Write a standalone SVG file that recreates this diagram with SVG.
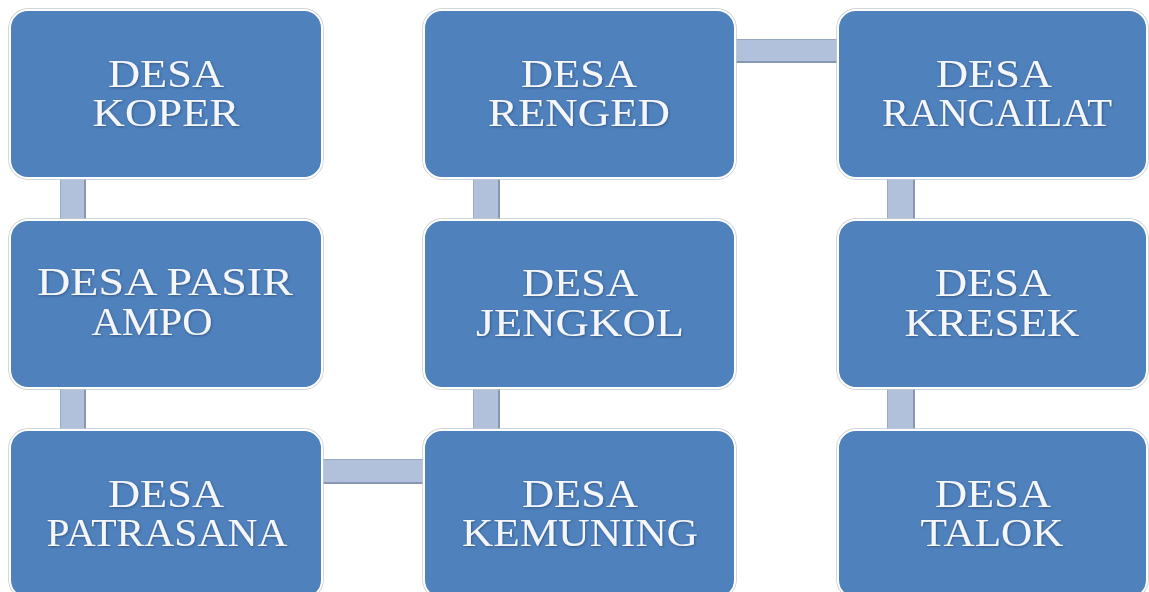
<svg xmlns="http://www.w3.org/2000/svg" width="1149" height="592" viewBox="0 0 1149 592">
  <defs>
    <style>
      .box { fill: #4f81bd; stroke: #ffffff; stroke-width: 2; }
      .rim { fill: none; stroke: #c4c8cf; stroke-width: 1.4; }
      .bar { fill: #b1c1dc; }
      .edge { fill: #8797b3; }
      .lbl { font-family: "Liberation Serif", "Times New Roman", serif; font-size: 39px; fill: #f4f6fa; text-anchor: middle; filter: url(#shade); }
    </style>
    <filter id="shade" x="-10%" y="-20%" width="120%" height="150%">
      <feDropShadow dx="0.8" dy="1" stdDeviation="0.8" flood-color="#1f3556" flood-opacity="0.55"/>
    </filter>
  </defs>
  <rect width="1149" height="592" fill="#ffffff"/>

  <!-- connectors: flat bars with a darker shaded edge -->
  <g id="connectors">
    <rect class="bar" x="60" y="178" width="26" height="42"/>
    <rect class="edge" x="84" y="178" width="2" height="42"/>
    <rect class="edge" x="60" y="178" width="1" height="42" opacity="0.5"/>
    <rect class="bar" x="60" y="388" width="26" height="42"/>
    <rect class="edge" x="84" y="388" width="2" height="42"/>
    <rect class="edge" x="60" y="388" width="1" height="42" opacity="0.5"/>
    <rect class="bar" x="473" y="178" width="27" height="42"/>
    <rect class="edge" x="498" y="178" width="2" height="42"/>
    <rect class="edge" x="473" y="178" width="1" height="42" opacity="0.5"/>
    <rect class="bar" x="473" y="388" width="27" height="42"/>
    <rect class="edge" x="498" y="388" width="2" height="42"/>
    <rect class="edge" x="473" y="388" width="1" height="42" opacity="0.5"/>
    <rect class="bar" x="887" y="178" width="28" height="42"/>
    <rect class="edge" x="913" y="178" width="2" height="42"/>
    <rect class="edge" x="887" y="178" width="1" height="42" opacity="0.5"/>
    <rect class="bar" x="887" y="388" width="28" height="42"/>
    <rect class="edge" x="913" y="388" width="2" height="42"/>
    <rect class="edge" x="887" y="388" width="1" height="42" opacity="0.5"/>
    <rect class="bar" x="322" y="459" width="102" height="25"/>
    <rect class="edge" x="322" y="482" width="102" height="2"/>
    <rect class="edge" x="322" y="459" width="102" height="1" opacity="0.6"/>
    <rect class="bar" x="735" y="39" width="103" height="24"/>
    <rect class="edge" x="735" y="61" width="103" height="2"/>
    <rect class="edge" x="735" y="39" width="103" height="1" opacity="0.6"/>
  </g>

  <g id="koper">
    <rect class="rim" x="9" y="9" width="314" height="170" rx="19"/>
    <rect class="box" x="10" y="10" width="312" height="168" rx="18"/>
    <text class="lbl" x="166" y="87" textLength="116" lengthAdjust="spacingAndGlyphs">DESA</text>
    <text class="lbl" x="166" y="126" textLength="147" lengthAdjust="spacingAndGlyphs">KOPER</text>
  </g>
  <g id="pasir-ampo">
    <rect class="rim" x="9" y="219" width="314" height="170" rx="19"/>
    <rect class="box" x="10" y="220" width="312" height="168" rx="18"/>
    <text class="lbl" x="165" y="295" textLength="256" lengthAdjust="spacingAndGlyphs">DESA PASIR</text>
    <text class="lbl" x="152" y="335" textLength="121" lengthAdjust="spacingAndGlyphs">AMPO</text>
  </g>
  <g id="patrasana">
    <rect class="rim" x="9" y="429" width="314" height="170" rx="19"/>
    <rect class="box" x="10" y="430" width="312" height="168" rx="18"/>
    <text class="lbl" x="166" y="507" textLength="116" lengthAdjust="spacingAndGlyphs">DESA</text>
    <text class="lbl" x="167" y="546" textLength="241" lengthAdjust="spacingAndGlyphs">PATRASANA</text>
  </g>

  <g id="renged">
    <rect class="rim" x="423" y="9" width="313" height="170" rx="19"/>
    <rect class="box" x="424" y="10" width="311" height="168" rx="18"/>
    <text class="lbl" x="579" y="87" textLength="116" lengthAdjust="spacingAndGlyphs">DESA</text>
    <text class="lbl" x="579" y="126" textLength="182" lengthAdjust="spacingAndGlyphs">RENGED</text>
  </g>
  <g id="jengkol">
    <rect class="rim" x="423" y="219" width="313" height="170" rx="19"/>
    <rect class="box" x="424" y="220" width="311" height="168" rx="18"/>
    <text class="lbl" x="580" y="296" textLength="116" lengthAdjust="spacingAndGlyphs">DESA</text>
    <text class="lbl" x="580" y="336" textLength="208" lengthAdjust="spacingAndGlyphs">JENGKOL</text>
  </g>
  <g id="kemuning">
    <rect class="rim" x="423" y="429" width="313" height="170" rx="19"/>
    <rect class="box" x="424" y="430" width="311" height="168" rx="18"/>
    <text class="lbl" x="580" y="507" textLength="116" lengthAdjust="spacingAndGlyphs">DESA</text>
    <text class="lbl" x="580" y="546" textLength="236" lengthAdjust="spacingAndGlyphs">KEMUNING</text>
  </g>

  <g id="rancailat">
    <rect class="rim" x="837" y="9" width="311" height="170" rx="19"/>
    <rect class="box" x="838" y="10" width="309" height="168" rx="18"/>
    <text class="lbl" x="994" y="87" textLength="116" lengthAdjust="spacingAndGlyphs">DESA</text>
    <text class="lbl" x="997" y="126" textLength="230" lengthAdjust="spacingAndGlyphs">RANCAILAT</text>
  </g>
  <g id="kresek">
    <rect class="rim" x="837" y="219" width="311" height="170" rx="19"/>
    <rect class="box" x="838" y="220" width="309" height="168" rx="18"/>
    <text class="lbl" x="993" y="296" textLength="116" lengthAdjust="spacingAndGlyphs">DESA</text>
    <text class="lbl" x="992" y="336" textLength="175" lengthAdjust="spacingAndGlyphs">KRESEK</text>
  </g>
  <g id="talok">
    <rect class="rim" x="837" y="429" width="311" height="170" rx="19"/>
    <rect class="box" x="838" y="430" width="309" height="168" rx="18"/>
    <text class="lbl" x="993" y="507" textLength="116" lengthAdjust="spacingAndGlyphs">DESA</text>
    <text class="lbl" x="992" y="546" textLength="143" lengthAdjust="spacingAndGlyphs">TALOK</text>
  </g>
</svg>
